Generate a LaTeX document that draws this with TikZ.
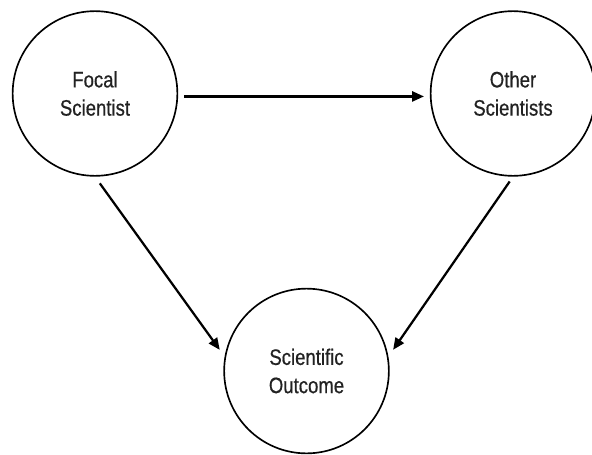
\documentclass[tikz,border=0pt]{standalone}
\usepackage{fontspec}
\setmainfont{Liberation Sans}[FakeStretch=0.83, FakeBold=0.6]
\usepackage{tikz}
\usetikzlibrary{arrows.meta}
\definecolor{labelgray}{HTML}{222222}

\begin{document}
\begin{tikzpicture}[x=0.85pt, y=-0.85pt,
    actor/.style={draw, circle, line width=1.4pt, minimum size=140pt, inner sep=0pt,
        align=center, font=\fontsize{19}{24}\selectfont, text=labelgray},
    link/.style={line width=1.9pt, -{Triangle[length=10pt,width=8.5pt]}}]
            \useasboundingbox (0,0) rectangle (592,454);
            \node[actor] (focal)   at (95, 93.5)  {Focal\\Scientist};
            \node[actor] (other)   at (513, 93.5) {Other\\Scientists};
            \node[actor] (outcome) at (306.5, 371) {Scientific\\Outcome};
            \draw[link, shorten <=5pt, shorten >=5pt] ([yshift=-2.5pt]focal.east) -- ([yshift=-2.5pt]other.west);
            \draw[link, shorten <=7pt, shorten >=7pt] (focal.south) -- (outcome.170);
            \draw[link, shorten <=5pt, shorten >=7pt] (other.south) -- (outcome.10);
        \end{tikzpicture}
\end{document}
